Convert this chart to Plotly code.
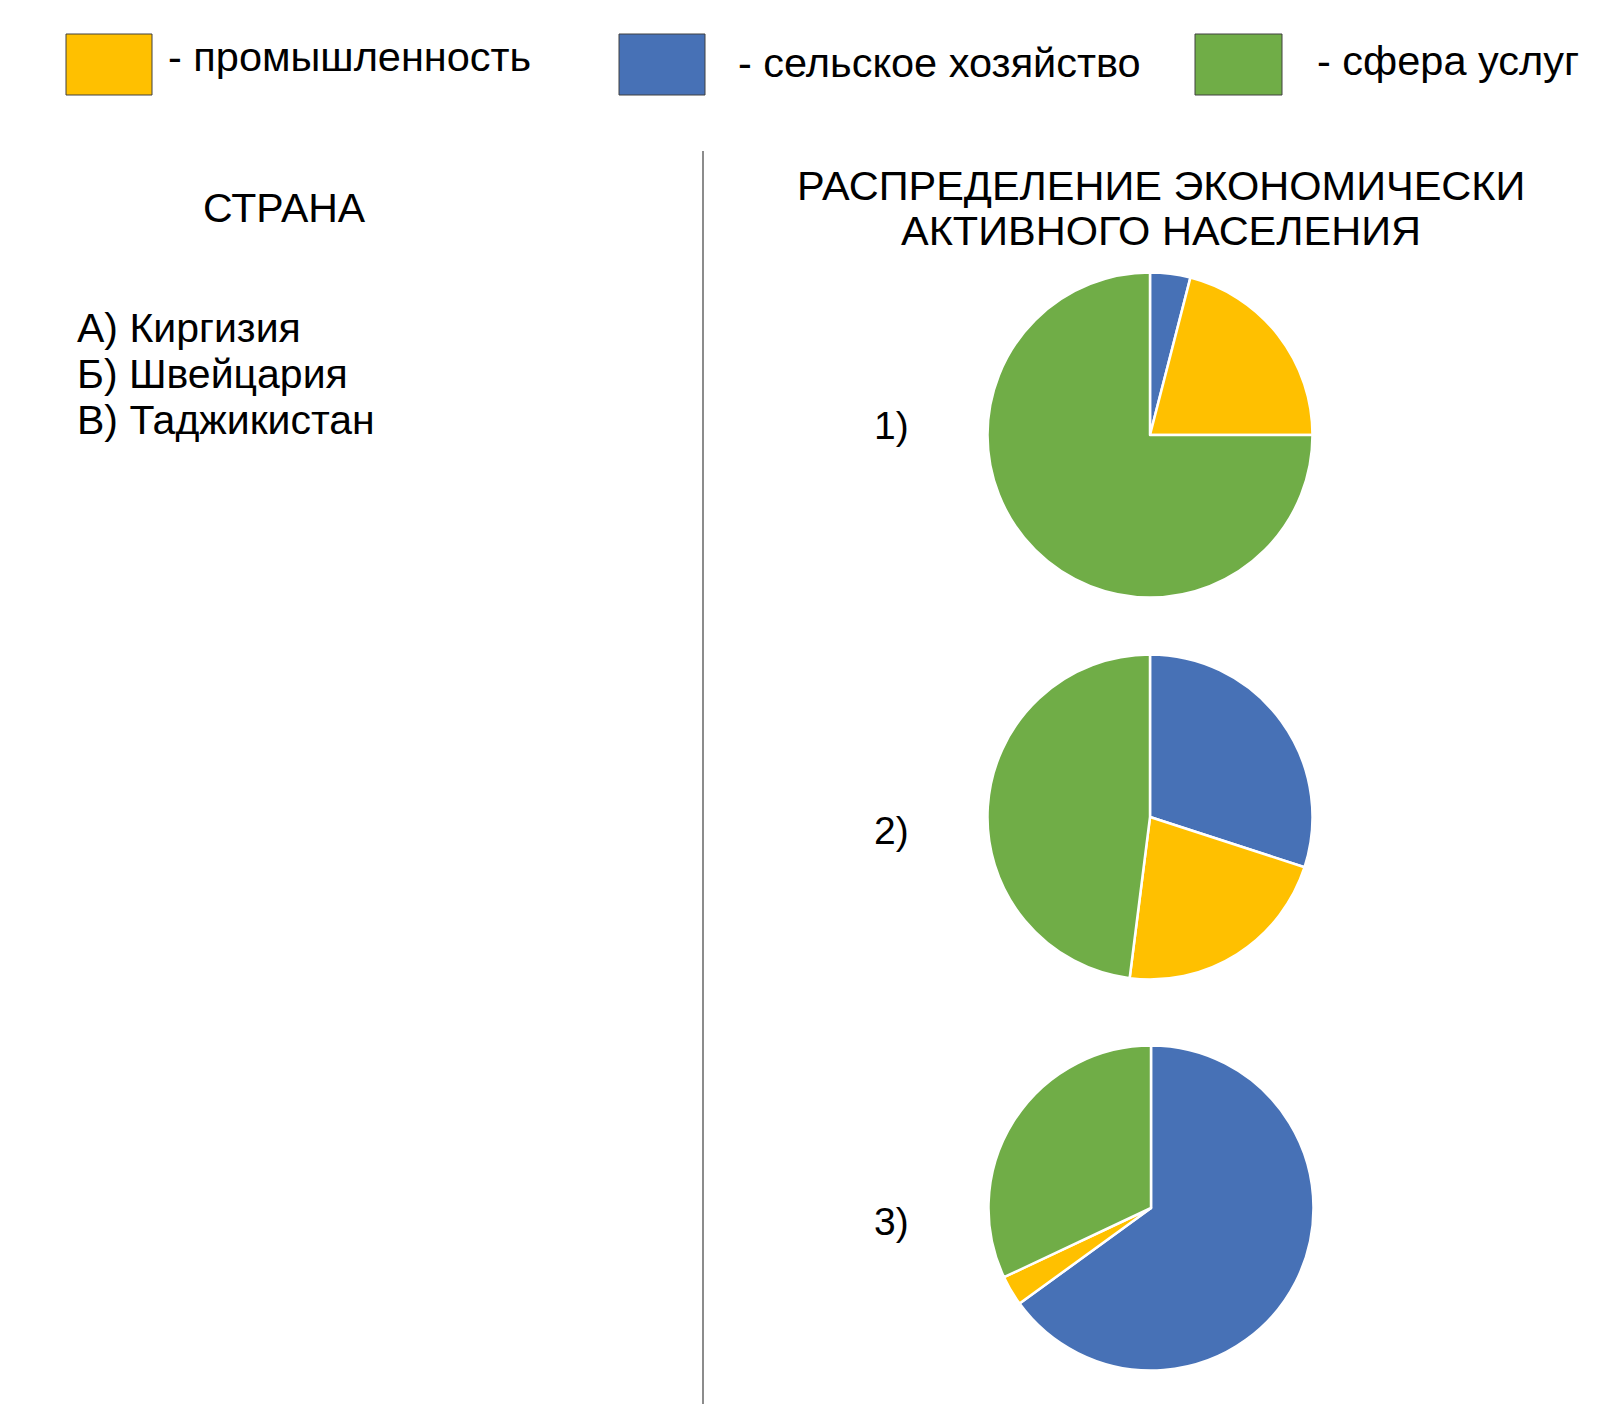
import plotly.graph_objects as go

# ---------------- data ----------------
sectors = ["сельское хозяйство", "промышленность", "сфера услуг"]
sector_colors = ["#4771B6", "#FFC000", "#70AD47"]
legend_order = ["промышленность", "сельское хозяйство", "сфера услуг"]

pie_names = ["1)", "2)", "3)"]
pie1_values = [4, 21, 75]
pie2_values = [30, 22, 48]
pie3_values = [65, 3, 32]

countries = ["А) Киргизия", "Б) Швейцария", "В) Таджикистан"]
left_title = "СТРАНА"
right_title_lines = ["РАСПРЕДЕЛЕНИЕ ЭКОНОМИЧЕСКИ", "АКТИВНОГО НАСЕЛЕНИЯ"]

# ---------------- layout helpers ----------------
W, H = 1600, 1413
def px(x):
    return x / W
def py(y):
    return 1 - y / H

FONT = "Liberation Sans, Arial, sans-serif"

fig = go.Figure()

pie_centers = [(1150, 435), (1150, 817), (1151, 1208)]
pie_r = 162.5
for name, vals, (cx, cy) in zip(pie_names, [pie1_values, pie2_values, pie3_values], pie_centers):
    fig.add_trace(go.Pie(
        labels=sectors,
        values=vals,
        name=name,
        sort=False,
        direction="clockwise",
        rotation=0,
        textinfo="none",
        hoverinfo="label+percent",
        marker=dict(colors=sector_colors, line=dict(color="white", width=2.5)),
        domain=dict(x=[px(cx - pie_r), px(cx + pie_r)], y=[py(cy + pie_r), py(cy - pie_r)]),
        showlegend=False,
    ))

shapes = []
annotations = []

# legend boxes + labels
color_of = dict(zip(sectors, sector_colors))
legend_boxes = [(66, 152), (619, 705), (1195, 1282)]
legend_text_x = [166, 736, 1315]
legend_text_y = [57, 62, 61]
for cat, (x0, x1), tx, ty in zip(legend_order, legend_boxes, legend_text_x, legend_text_y):
    shapes.append(dict(type="rect", xref="paper", yref="paper",
                       x0=px(x0), x1=px(x1), y0=py(95), y1=py(34),
                       fillcolor=color_of[cat], line=dict(color="#404040", width=1)))
    annotations.append(dict(text="- " + cat, xref="paper", yref="paper",
                            x=px(tx), y=py(ty), xanchor="left", yanchor="middle",
                            showarrow=False, font=dict(family=FONT, size=41.5, color="black")))

# divider line
shapes.append(dict(type="line", xref="paper", yref="paper",
                   x0=px(703), x1=px(703), y0=py(151), y1=py(1404),
                   line=dict(color="#8c8c8c", width=2)))

# left title
annotations.append(dict(text=left_title, xref="paper", yref="paper",
                        x=px(284), y=py(208), xanchor="center", yanchor="middle",
                        showarrow=False, font=dict(family=FONT, size=41, color="black")))

# countries
for txt, yy in zip(countries, [328, 374, 420]):
    annotations.append(dict(text=txt, xref="paper", yref="paper",
                            x=px(75), y=py(yy), xanchor="left", yanchor="middle",
                            showarrow=False, font=dict(family=FONT, size=41, color="black")))

# right title
for txt, yy in zip(right_title_lines, [185, 230]):
    annotations.append(dict(text=txt, xref="paper", yref="paper",
                            x=px(1161), y=py(yy), xanchor="center", yanchor="middle",
                            showarrow=False, font=dict(family=FONT, size=41.5, color="black")))

# pie labels
for txt, yy in zip(pie_names, [425, 830, 1221]):
    annotations.append(dict(text=txt, xref="paper", yref="paper",
                            x=px(872), y=py(yy), xanchor="left", yanchor="middle",
                            showarrow=False, font=dict(family=FONT, size=39, color="black")))

fig.update_layout(
    width=W, height=H,
    margin=dict(l=0, r=0, t=0, b=0),
    paper_bgcolor="white", plot_bgcolor="white",
    showlegend=False,
    shapes=shapes,
    annotations=annotations,
)

fig.write_html("out.html")
